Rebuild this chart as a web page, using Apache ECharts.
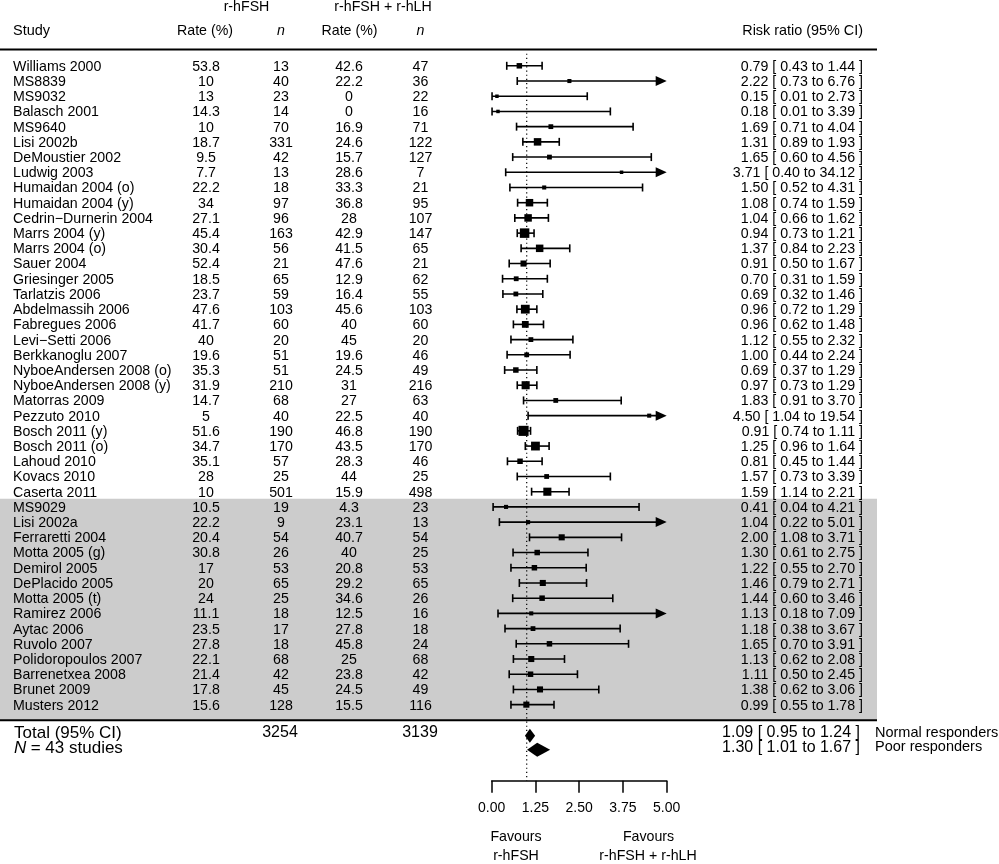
<!DOCTYPE html>
<html><head><meta charset="utf-8">
<script src="https://cdn.jsdelivr.net/npm/echarts@6/dist/echarts.min.js"></script>
<style>html,body{margin:0;padding:0;background:#fff}#c{width:999px;height:864px}</style>
</head><body><div id="c"></div>
<script>
// ---------- data ----------
const studies = ['Williams 2000','MS8839','MS9032','Balasch 2001','MS9640','Lisi 2002b','DeMoustier 2002','Ludwig 2003',
 'Humaidan 2004 (o)','Humaidan 2004 (y)','Cedrin\u2212Durnerin 2004','Marrs 2004 (y)','Marrs 2004 (o)','Sauer 2004',
 'Griesinger 2005','Tarlatzis 2006','Abdelmassih 2006','Fabregues 2006','Levi\u2212Setti 2006','Berkkanoglu 2007',
 'NyboeAndersen 2008 (o)','NyboeAndersen 2008 (y)','Matorras 2009','Pezzuto 2010','Bosch 2011 (y)','Bosch 2011 (o)',
 'Lahoud 2010','Kovacs 2010','Caserta 2011',
 'MS9029','Lisi 2002a','Ferraretti 2004','Motta 2005 (g)','Demirol 2005','DePlacido 2005','Motta 2005 (t)',
 'Ramirez 2006','Aytac 2006','Ruvolo 2007','Polidoropoulos 2007','Barrenetxea 2008','Brunet 2009','Musters 2012'];
const rateFSH = [53.8,10,13,14.3,10,18.7,9.5,7.7,22.2,34,27.1,45.4,30.4,52.4,18.5,23.7,47.6,41.7,40,19.6,35.3,31.9,14.7,5,51.6,34.7,35.1,28,10,
 10.5,22.2,20.4,30.8,17,20,24,11.1,23.5,27.8,22.1,21.4,17.8,15.6];
const nFSH = [13,40,23,14,70,331,42,13,18,97,96,163,56,21,65,59,103,60,20,51,51,210,68,40,190,170,57,25,501,
 19,9,54,26,53,65,25,18,17,18,68,42,45,128];
const rateLH = [42.6,22.2,0,0,16.9,24.6,15.7,28.6,33.3,36.8,28,42.9,41.5,47.6,12.9,16.4,45.6,40,45,19.6,24.5,31,27,22.5,46.8,43.5,28.3,44,15.9,
 4.3,23.1,40.7,40,20.8,29.2,34.6,12.5,27.8,45.8,25,23.8,24.5,15.5];
const nLH = [47,36,22,16,71,122,127,7,21,95,107,147,65,21,62,55,103,60,20,46,49,216,63,40,190,170,46,25,498,
 23,13,54,25,53,65,26,16,18,24,68,42,49,116];
const rr = [0.79,2.22,0.15,0.18,1.69,1.31,1.65,3.71,1.50,1.08,1.04,0.94,1.37,0.91,0.70,0.69,0.96,0.96,1.12,1.00,0.69,0.97,1.83,4.50,0.91,1.25,0.81,1.57,1.59,
 0.41,1.04,2.00,1.30,1.22,1.46,1.44,1.13,1.18,1.65,1.13,1.11,1.38,0.99];
const ciLow = [0.43,0.73,0.01,0.01,0.71,0.89,0.60,0.40,0.52,0.74,0.66,0.73,0.84,0.50,0.31,0.32,0.72,0.62,0.55,0.44,0.37,0.73,0.91,1.04,0.74,0.96,0.45,0.73,1.14,
 0.04,0.22,1.08,0.61,0.55,0.79,0.60,0.18,0.38,0.70,0.62,0.50,0.62,0.55];
const ciHigh = [1.44,6.76,2.73,3.39,4.04,1.93,4.56,34.12,4.31,1.59,1.62,1.21,2.23,1.67,1.59,1.46,1.29,1.48,2.32,2.24,1.29,1.29,3.70,19.54,1.11,1.64,1.44,3.39,2.21,
 4.21,5.01,3.71,2.75,2.70,2.71,3.46,7.09,3.67,3.91,2.08,2.45,3.06,1.78];
// estimated study weights (%)
const weights = [5.5,2.7,1.8,1.8,4.0,11.2,4.0,1.8,2.7,11.2,11.2,18.9,11.2,7.0,4.0,4.0,16.0,9.0,4.0,4.0,5.5,13.3,4.0,2.7,21.6,16.0,5.5,4.0,13.3,
 2.7,2.7,7.0,5.5,5.5,7.0,5.5,2.7,4.0,5.5,7.0,5.5,7.0,7.0];
const poorStart = 29;
const totalGroups = ['Normal responders','Poor responders'];
const totalRR = [1.09, 1.30];
const totalLow = [0.95, 1.01];
const totalHigh = [1.24, 1.67];
const totalN = [3254, 3139];
const nStudies = 43;
const xTicks = [0, 1.25, 2.5, 3.75, 5];

// ---------- drawing ----------
const FONT = '"Liberation Sans", Arial, Helvetica, sans-serif';
const FS = 14.2;
const X_MIN = xTicks[0], X_MAX = xTicks[xTicks.length - 1];
function txt(text, x, y, size, align, italic) {
  return {type:'text', silent:true, style:{text:String(text), x:x, y:y, fill:'#000',
    font:(italic ? 'italic ' : '') + size + 'px ' + FONT,
    align:align, textAlign:align, verticalAlign:'middle', textVerticalAlign:'middle'}};
}
function fmtCI(r, lo, hi) { return r.toFixed(2) + ' [ ' + lo.toFixed(2) + ' to ' + hi.toFixed(2) + ' ]'; }

const COL = {name:13, rate1:206, n1:281, rate2:349, n2:420.5, ci:863};

function renderStudy(params, api) {
  const i = api.value(0);
  const r = api.value(1), lo = api.value(2), hi = api.value(3), w = api.value(4);
  const y = api.coord([0, i])[1];
  const xLo = api.coord([Math.max(lo, X_MIN), i])[0];
  const clipped = hi > X_MAX;
  const xHi = api.coord([Math.min(hi, X_MAX), i])[0];
  const xR = api.coord([r, i])[0];
  const s = 2 * Math.sqrt(w) + 0.8;
  const ls = {stroke:'#000', lineWidth:1.6};
  const ch = [];
  ch.push({type:'line', shape:{x1:xLo, y1:y, x2:clipped ? xHi - 8 : xHi, y2:y}, style:ls});
  ch.push({type:'line', shape:{x1:xLo, y1:y - 4, x2:xLo, y2:y + 4}, style:ls});
  if (clipped) {
    ch.push({type:'polygon', shape:{points:[[xHi - 11, y - 5], [xHi, y], [xHi - 11, y + 5]]}, style:{fill:'#000'}});
  } else {
    ch.push({type:'line', shape:{x1:xHi, y1:y - 4, x2:xHi, y2:y + 4}, style:ls});
  }
  ch.push({type:'rect', shape:{x:xR - s / 2, y:y - s / 2, width:s, height:s}, style:{fill:'#000'}});
  const ty = y + 1;
  ch.push(txt(studies[i], COL.name, ty, FS, 'left'));
  ch.push(txt(rateFSH[i], COL.rate1, ty, FS, 'center'));
  ch.push(txt(nFSH[i], COL.n1, ty, FS, 'center'));
  ch.push(txt(rateLH[i], COL.rate2, ty, FS, 'center'));
  ch.push(txt(nLH[i], COL.n2, ty, FS, 'center'));
  ch.push(txt(fmtCI(r, lo, hi), COL.ci, ty, FS, 'right'));
  return {type:'group', children:ch};
}

// total rows positions (row units)
const totalDiamondRow = [44.05, 44.97];
const totalTextRow = [43.87, 44.8];

function renderTotal(params, api) {
  const k = params.dataIndex;
  const yv = api.value(0);
  const y = api.coord([0, yv])[1];
  const yt = api.coord([0, totalTextRow[k]])[1];
  const xc = api.coord([api.value(1), yv])[0];
  const xl = api.coord([api.value(2), yv])[0];
  const xh = api.coord([api.value(3), yv])[0];
  const ch = [];
  ch.push({type:'polygon', shape:{points:[[xl, y], [xc, y - 7], [xh, y], [xc, y + 7]]}, style:{fill:'#000'}});
  ch.push(txt(fmtCI(totalRR[k], totalLow[k], totalHigh[k]), 860, yt, 16, 'right'));
  ch.push(txt(totalGroups[k], 875, yt, 14.5, 'left'));
  if (k === 0) {
    ch.push(txt('Total (95% CI)', 14, yt, 17, 'left'));
    ch.push(txt(totalN[0], 280, yt, 16, 'center'));
    ch.push(txt(totalN[1], 420, yt, 16, 'center'));
  } else {
    ch.push(txt('N', 14, yt + 1, 17, 'left', true));
    ch.push(txt(' = ' + nStudies + ' studies', 26, yt + 1, 17, 'left'));
  }
  return {type:'group', children:ch};
}

function renderBand(params, api) {
  const y1 = api.coord([0, poorStart - 0.53])[1];
  const y2 = api.coord([0, studies.length - 1 + 1.03])[1];
  return {type:'group', children:[
    {type:'rect', shape:{x:0, y:y1, width:877, height:y2 - y1}, style:{fill:'#cccccc'}},
    {type:'line', shape:{x1:0, y1:y2, x2:877, y2:y2}, style:{stroke:'#000', lineWidth:2}}
  ]};
}

function renderRef(params, api) {
  const p1 = api.coord([1, -0.8]);
  const p2 = api.coord([1, 47]);
  return {type:'line', shape:{x1:p1[0], y1:p1[1], x2:p2[0], y2:p2[1]},
    style:{stroke:'#000', lineWidth:1.2, lineDash:[1.2, 3]}};
}

const chart = echarts.init(document.getElementById('c'), null, {renderer:'canvas'});
const hdrY1 = 7.5, hdrY2 = 31;
chart.setOption({
  backgroundColor:'#fff',
  animation:false,
  grid:{left:491.7, right:999 - 666.7, top:50.6, bottom:83.3, containLabel:false},
  xAxis:{type:'value', min:X_MIN, max:X_MAX, interval:1.25,
    axisLine:{show:true, onZero:false, lineStyle:{color:'#000', width:1.5}},
    axisTick:{show:true, length:12, lineStyle:{color:'#000', width:1.5}},
    axisLabel:{color:'#000', fontSize:14, fontFamily:FONT, margin:20, formatter:v => v.toFixed(2)},
    splitLine:{show:false}},
  yAxis:{type:'value', min:-1, max:47, inverse:true, show:false},
  graphic:[
    txt('r-hFSH', 246.5, hdrY1, FS, 'center'),
    txt('r-hFSH + r-hLH', 383, hdrY1, FS, 'center'),
    txt('Study', 13, hdrY2, 14.5, 'left'),
    txt('Rate (%)', 205, hdrY2, FS, 'center'),
    txt('n', 281, hdrY2, FS, 'center', true),
    txt('Rate (%)', 349.5, hdrY2, FS, 'center'),
    txt('n', 420.5, hdrY2, FS, 'center', true),
    txt('Risk ratio (95% CI)', 863, hdrY2, 14.4, 'right'),
    {type:'line', silent:true, shape:{x1:0, y1:49.5, x2:877, y2:49.5}, style:{stroke:'#000', lineWidth:2}},
    txt('Favours', 516, 837.5, FS, 'center'),
    txt('r-hFSH', 516, 856, FS, 'center'),
    txt('Favours', 648.5, 837.5, FS, 'center'),
    txt('r-hFSH + r-hLH', 648, 856, FS, 'center')
  ],
  series:[
    {type:'custom', name:'band', silent:true, z:1, renderItem:renderBand, data:[[0, 0]], encode:{x:0, y:1}},
    {type:'custom', name:'ref', silent:true, z:2, renderItem:renderRef, data:[[1, 0]], encode:{x:0, y:1}},
    {type:'custom', name:'studies', silent:true, z:3, renderItem:renderStudy,
      data:studies.map((_, i) => [i, rr[i], ciLow[i], ciHigh[i], weights[i]]), encode:{x:1, y:0}},
    {type:'custom', name:'totals', silent:true, z:3, renderItem:renderTotal,
      data:totalRR.map((r, k) => [totalDiamondRow[k], r, totalLow[k], totalHigh[k]]), encode:{x:1, y:0}}
  ]
});
</script>
</body></html>
